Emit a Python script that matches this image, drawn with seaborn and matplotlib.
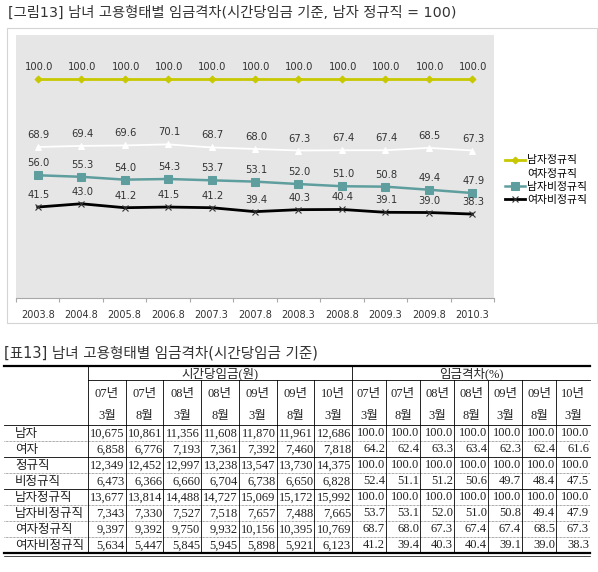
import numpy as np
import pandas as pd
import seaborn as sns
import matplotlib.pyplot as plt
from matplotlib.patches import Rectangle

# 그림 데이터
periods = ['2003.8', '2004.8', '2005.8', '2006.8', '2007.3', '2007.8',
           '2008.3', '2008.8', '2009.3', '2009.8', '2010.3']
male_regular = [100.0, 100.0, 100.0, 100.0, 100.0, 100.0, 100.0, 100.0, 100.0, 100.0, 100.0]
female_regular = [68.9, 69.4, 69.6, 70.1, 68.7, 68.0, 67.3, 67.4, 67.4, 68.5, 67.3]
male_irregular = [56.0, 55.3, 54.0, 54.3, 53.7, 53.1, 52.0, 51.0, 50.8, 49.4, 47.9]
female_irregular = [41.5, 43.0, 41.2, 41.5, 41.2, 39.4, 40.3, 40.4, 39.1, 39.0, 38.3]
series_names = ['남자정규직', '여자정규직', '남자비정규직', '여자비정규직']

# 표 데이터
col_years = ['07년', '07년', '08년', '08년', '09년', '09년', '10년']
col_months = ['3월', '8월', '3월', '8월', '3월', '8월', '3월']
row_labels = ['남자', '여자', '정규직', '비정규직', '남자정규직', '남자비정규직', '여자정규직', '여자비정규직']
hourly_wage = [
    [10675, 10861, 11356, 11608, 11870, 11961, 12686],
    [6858, 6776, 7193, 7361, 7392, 7460, 7818],
    [12349, 12452, 12997, 13238, 13547, 13730, 14375],
    [6473, 6366, 6660, 6704, 6738, 6650, 6828],
    [13677, 13814, 14488, 14727, 15069, 15172, 15992],
    [7343, 7330, 7527, 7518, 7657, 7488, 7665],
    [9397, 9392, 9750, 9932, 10156, 10395, 10769],
    [5634, 5447, 5845, 5945, 5898, 5921, 6123],
]
wage_gap = [
    [100.0, 100.0, 100.0, 100.0, 100.0, 100.0, 100.0],
    [64.2, 62.4, 63.3, 63.4, 62.3, 62.4, 61.6],
    [100.0, 100.0, 100.0, 100.0, 100.0, 100.0, 100.0],
    [52.4, 51.1, 51.2, 50.6, 49.7, 48.4, 47.5],
    [100.0, 100.0, 100.0, 100.0, 100.0, 100.0, 100.0],
    [53.7, 53.1, 52.0, 51.0, 50.8, 49.4, 47.9],
    [68.7, 68.0, 67.3, 67.4, 67.4, 68.5, 67.3],
    [41.2, 39.4, 40.3, 40.4, 39.1, 39.0, 38.3],
]

plt.rcParams['font.family'] = ['DejaVu Sans', 'Noto Sans CJK KR']

W, H = 598, 572
fig = plt.figure(figsize=(W / 100, H / 100), dpi=100)

# 전체 캔버스 (픽셀 좌표) - 제목, 틀, 표
bg = fig.add_axes([0, 0, 1, 1])
bg.set_xlim(0, W)
bg.set_ylim(H, 0)
bg.axis('off')

bg.text(8, 13, '[그림13] 남녀 고용형태별 임금격차(시간당임금 기준, 남자 정규직 = 100)',
        fontsize=10.3, color='#333333', va='center', ha='left')
bg.add_patch(Rectangle((7, 28), 590, 295, fill=False, edgecolor='#D4D4D4', lw=0.8))

# 선 그래프
ax = fig.add_axes([16 / W, 1 - 298 / H, 478 / W, 263 / H])
ax.set_facecolor('#E6E6E6')

df = pd.DataFrame({'period': periods,
                   series_names[0]: male_regular,
                   series_names[1]: female_regular,
                   series_names[2]: male_irregular,
                   series_names[3]: female_irregular})

styles = {
    '남자정규직': dict(color='#C8C800', marker='D', markersize=3.5, linewidth=2.0,
                  markeredgecolor='#C8C800'),
    '여자정규직': dict(color='#FFFFFF', marker='^', markersize=5, linewidth=1.3,
                  markeredgecolor='#FFFFFF'),
    '남자비정규직': dict(color='#5F9E9E', marker='s', markersize=6, linewidth=1.8,
                   markeredgecolor='#5F9E9E'),
    '여자비정규직': dict(color='#000000', marker='x', markersize=5, linewidth=2.0,
                   markeredgecolor='#333333', markeredgewidth=0.8),
}

for name in series_names:
    sns.lineplot(data=df, x='period', y=name, ax=ax, label=name, **styles[name])
    for p, v in zip(df['period'], df[name]):
        ax.annotate(f'{v:.1f}', (p, v), xytext=(1, 12), textcoords='offset pixels',
                    ha='center', va='center', fontsize=7.2, color='#333333')

ax.set_ylim(0, 120)
ax.set_xlim(-0.5, len(periods) - 0.5)
ax.set_yticks([])
ax.set_xlabel('')
ax.set_ylabel('')
for s in ['top', 'right', 'left']:
    ax.spines[s].set_visible(False)
ax.spines['bottom'].set_color('#A8A8A8')
ax.spines['bottom'].set_linewidth(0.8)
ax.set_xticks(np.arange(len(periods)))
ax.set_xticklabels(periods)
ax.set_xticks(np.arange(len(periods) + 1) - 0.5, minor=True)
ax.tick_params(axis='x', which='major', length=0, pad=9, labelsize=7, labelcolor='#333333')
ax.tick_params(axis='x', which='minor', length=3, color='#A8A8A8', width=0.8)

ax.legend(loc='upper left', bbox_to_anchor=(500 / W, 1 - 150 / H),
          bbox_transform=fig.transFigure, frameon=False, fontsize=7.8,
          handlelength=1.8, handletextpad=0.2, labelspacing=0.3, borderpad=0)

# 표
bg.text(4, 353, '[표13] 남녀 고용형태별 임금격차(시간당임금 기준)',
        fontsize=10.5, color='#333333', va='center', ha='left')

tfont = ['Liberation Serif', 'Noto Sans CJK KR']
fs = 9
x_left, x_lab, x_mid, x_right = 4, 88, 352, 590
top, row1_bot, head_bot, row_h = 366, 380, 425, 16
n_rows = len(row_labels)
bottom = head_bot + row_h * n_rows
left_w = (x_mid - x_lab) / len(col_years)
right_w = (x_right - x_mid) / len(col_years)
col_edges = [x_lab + left_w * i for i in range(len(col_years) + 1)] + \
            [x_mid + right_w * i for i in range(1, len(col_years) + 1)]

bg.plot([x_left, x_right], [top, top], color='black', lw=1.6)
bg.plot([x_lab, x_right], [row1_bot, row1_bot], color='black', lw=0.6)
bg.plot([x_left, x_right], [head_bot, head_bot], color='black', lw=0.6)
for k in range(1, n_rows):
    y = head_bot + row_h * k
    if k in (2, 4):
        bg.plot([x_left, x_right], [y, y], color='black', lw=0.6)
    else:
        bg.plot([x_left, x_right], [y, y], color='#555555', lw=0.5, ls=(0, (1, 1)))
bg.plot([x_left, x_right], [bottom, bottom], color='black', lw=1.6)
bg.plot([x_left, x_right], [bottom + 3, bottom + 3], color='black', lw=0.5)

bg.plot([x_lab, x_lab], [top, bottom], color='black', lw=0.6)
bg.plot([x_mid, x_mid], [top, bottom], color='black', lw=0.6)
for xe in col_edges[1:-1]:
    if xe != x_mid:
        bg.plot([xe, xe], [row1_bot, bottom], color='black', lw=0.6)

bg.text((x_lab + x_mid) / 2, (top + row1_bot) / 2 + 1, '시간당임금(원)', ha='center', va='center',
        fontsize=fs, family=tfont, color='#222222')
bg.text((x_mid + x_right) / 2, (top + row1_bot) / 2 + 1, '임금격차(%)', ha='center', va='center',
        fontsize=fs, family=tfont, color='#222222')

for j in range(2 * len(col_years)):
    xc = (col_edges[j] + col_edges[j + 1]) / 2
    bg.text(xc, 394, col_years[j % 7], ha='center', va='center', fontsize=fs,
            family=tfont, color='#222222')
    bg.text(xc, 416, col_months[j % 7], ha='center', va='center', fontsize=fs,
            family=tfont, color='#222222')

for i, lab in enumerate(row_labels):
    yc = head_bot + row_h * i + row_h / 2 + 0.5
    bg.text(15, yc, lab, ha='left', va='center', fontsize=fs, family=tfont, color='#222222')
    for j in range(len(col_years)):
        bg.text(col_edges[j + 1] - 1, yc, f'{hourly_wage[i][j]:,}', ha='right', va='center',
                fontsize=fs, family=tfont, color='#222222')
        bg.text(col_edges[j + 8] - 1, yc, f'{wage_gap[i][j]:.1f}', ha='right', va='center',
                fontsize=fs, family=tfont, color='#222222')

fig.savefig('out.png', dpi=100)
